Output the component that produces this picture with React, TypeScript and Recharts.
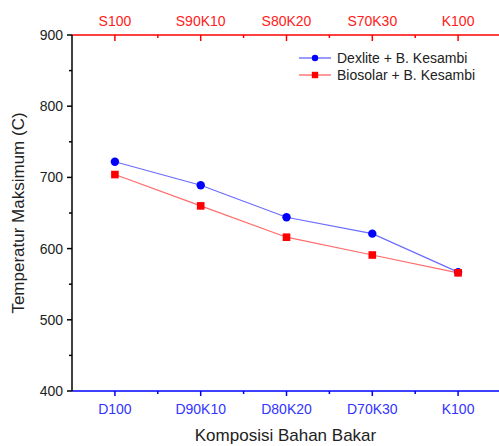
import { LineChart, Line, XAxis, YAxis, Legend } from "recharts";

const categoriesBottom = ["D100", "D90K10", "D80K20", "D70K30", "K100"];
const categoriesTop = ["S100", "S90K10", "S80K20", "S70K30", "K100"];
const dexliteTemp = [722, 689, 644, 621, 567];
const biosolarTemp = [704, 660, 616, 591, 566];
const xTicks = [0, 0.5, 1, 1.5, 2, 2.5, 3, 3.5, 4];
const yTicks = [400, 450, 500, 550, 600, 650, 700, 750, 800, 850, 900];

const FONT = "'Liberation Sans', Arial, sans-serif";
const BLUE = "#0000ff";
const RED = "#ff0000";

const data = categoriesBottom.map((c, i) => ({
  x: i,
  bottom: c,
  top: categoriesTop[i],
  dexlite: dexliteTemp[i],
  biosolar: biosolarTemp[i],
}));

const BottomTick = ({ x, y, payload }: any) => {
  const v = payload.value;
  const major = Number.isInteger(v);
  return (
    <g>
      <line x1={x} x2={x} y1={y} y2={y + (major ? 5 : 3)} stroke={BLUE} strokeWidth={1.5} />
      {major && (
        <text x={x} y={y + 23} textAnchor="middle" fill="#3333ff" fontSize={14} fontFamily={FONT}>
          {categoriesBottom[v]}
        </text>
      )}
    </g>
  );
};

const TopTick = ({ x, y, payload }: any) => {
  const v = payload.value;
  const major = Number.isInteger(v);
  return (
    <g>
      <line x1={x} x2={x} y1={y} y2={y + (major ? 6 : 3)} stroke={RED} strokeWidth={1.5} />
      {major && (
        <text x={x} y={y - 9} textAnchor="middle" fill="#ff2020" fontSize={14} fontFamily={FONT}>
          {categoriesTop[v]}
        </text>
      )}
    </g>
  );
};

const LeftTick = ({ x, y, payload }: any) => {
  const v = payload.value;
  const major = v % 100 === 0;
  return (
    <g>
      <line x1={x - (major ? 5 : 3)} x2={x} y1={y} y2={y} stroke="#000" strokeWidth={1.5} />
      {major && (
        <text x={x - 9} y={y + 5} textAnchor="end" fill="#222" fontSize={14} fontFamily={FONT}>
          {v}
        </text>
      )}
    </g>
  );
};

const YLabel = ({ viewBox }: any) => {
  const cx = viewBox.x + 18;
  const cy = viewBox.y + viewBox.height / 2;
  return (
    <text
      x={cx}
      y={cy}
      transform={`rotate(-90 ${cx} ${cy})`}
      textAnchor="middle"
      dominantBaseline="central"
      fontSize={17}
      fill="#222"
      fontFamily={FONT}
    >
      Temperatur Maksimum (C)
    </text>
  );
};

const XLabel = ({ viewBox }: any) => (
  <text
    x={viewBox.x + viewBox.width / 2 - 1}
    y={viewBox.y + 50}
    textAnchor="middle"
    fontSize={17}
    fill="#222"
    fontFamily={FONT}
  >
    Komposisi Bahan Bakar
  </text>
);

const CircleDot = ({ cx, cy }: any) => <circle cx={cx} cy={cy} r={4.2} fill={BLUE} />;
const SquareDot = ({ cx, cy }: any) => <rect x={cx - 3.8} y={cy - 3.8} width={7.6} height={7.6} fill={RED} />;

const legendItems = [
  { name: "Dexlite + B. Kesambi", color: BLUE, line: "#7a7aff", shape: "circle" },
  { name: "Biosolar + B. Kesambi", color: RED, line: "#ff7a7a", shape: "square" },
];

const renderLegend = () => (
  <div style={{ fontFamily: FONT, fontSize: 14, color: "#222" }}>
    {legendItems.map((it) => (
      <div key={it.name} style={{ display: "flex", alignItems: "center", height: 17 }}>
        <svg width={34} height={14} style={{ marginRight: 5 }}>
          <line x1={1} x2={33} y1={7} y2={7} stroke={it.line} strokeWidth={1.5} />
          {it.shape === "circle" ? (
            <circle cx={17} cy={7} r={3.2} fill={it.color} />
          ) : (
            <rect x={13.8} y={3.8} width={6.4} height={6.4} fill={it.color} />
          )}
        </svg>
        <span>{it.name}</span>
      </div>
    ))}
  </div>
);

export default function App() {
  return (
    <div style={{ position: "absolute", left: 0, top: 0, width: 499, height: 446, overflow: "hidden", background: "#fff" }}>
      <LineChart width={502} height={446} data={data} margin={{ top: 0, right: 1, bottom: 0, left: 0 }}>
        <XAxis
          xAxisId="bottom"
          dataKey="x"
          type="number"
          domain={[-0.5, 4.5]}
          ticks={xTicks}
          interval={0}
          orientation="bottom"
          height={55}
          tickSize={0}
          tickMargin={0}
          tickLine={false}
          tick={<BottomTick />}
          axisLine={{ stroke: BLUE, strokeWidth: 1.5 }}
          label={<XLabel />}
        />
        <XAxis
          xAxisId="top"
          dataKey="x"
          type="number"
          domain={[-0.5, 4.5]}
          ticks={xTicks}
          interval={0}
          orientation="top"
          height={35}
          tickSize={0}
          tickMargin={0}
          tickLine={false}
          tick={<TopTick />}
          axisLine={{ stroke: RED, strokeWidth: 1.5 }}
        />
        <YAxis
          domain={[400, 900]}
          ticks={yTicks}
          interval={0}
          width={72}
          tickSize={0}
          tickMargin={0}
          tickLine={false}
          tick={<LeftTick />}
          axisLine={{ stroke: "#000", strokeWidth: 1.5 }}
          label={<YLabel />}
        />
        <Legend
          layout="horizontal"
          verticalAlign="middle"
          align="center"
          content={renderLegend}
          wrapperStyle={{ top: 49, left: 298, width: 200 }}
        />
        <Line
          xAxisId="bottom"
          dataKey="dexlite"
          name="Dexlite + B. Kesambi"
          stroke="#6b6bff"
          strokeWidth={1.2}
          dot={<CircleDot />}
          activeDot={false}
          isAnimationActive={false}
        />
        <Line
          xAxisId="bottom"
          dataKey="biosolar"
          name="Biosolar + B. Kesambi"
          stroke="#ff6b6b"
          strokeWidth={1.2}
          dot={<SquareDot />}
          activeDot={false}
          isAnimationActive={false}
        />
      </LineChart>
    </div>
  );
}
